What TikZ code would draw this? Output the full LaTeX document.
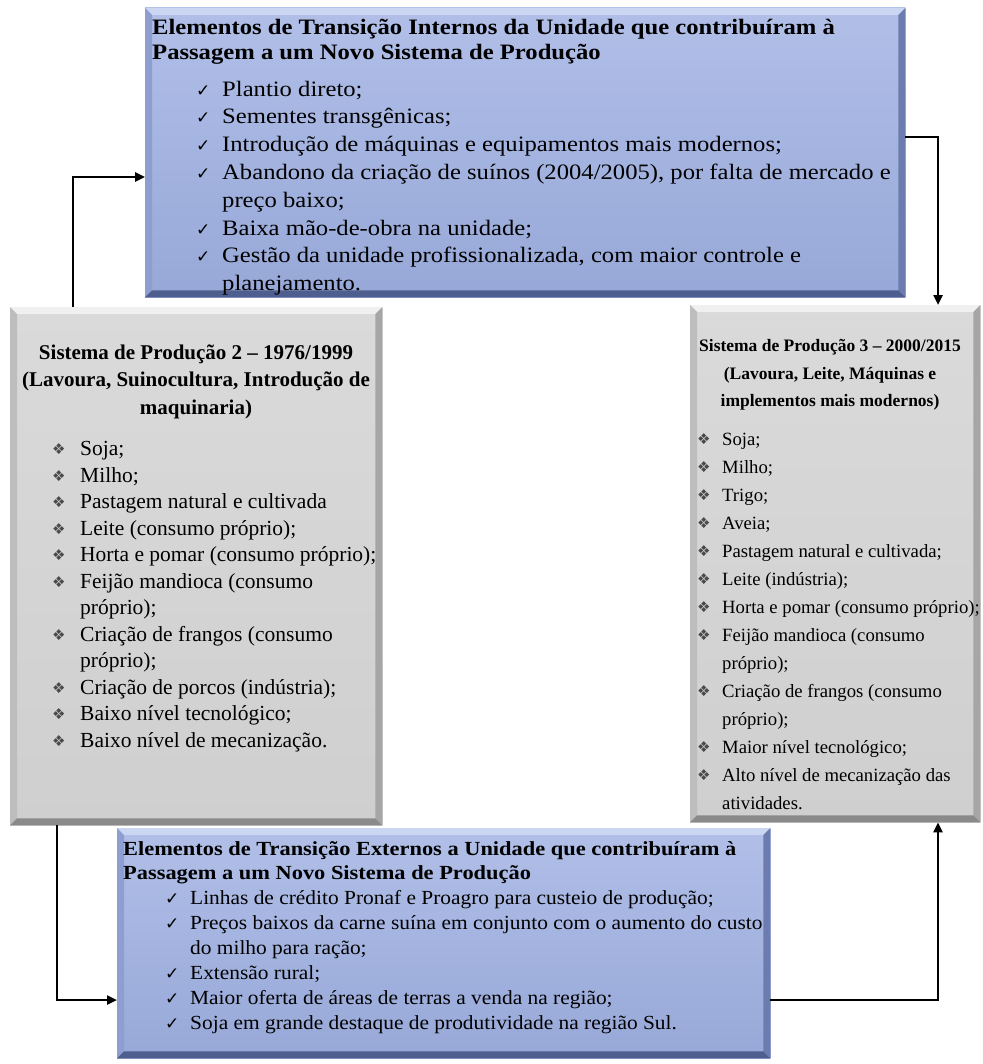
\documentclass[tikz,border=0pt]{standalone}
\usepackage{fontspec}
\setmainfont{Liberation Serif}
\newfontfamily\symfont{DejaVu Sans}
\newfontfamily\wideA[FakeStretch=1.12]{Liberation Serif}
\newfontfamily\wideB[FakeStretch=1.07]{Liberation Serif}
\usetikzlibrary{calc,arrows.meta}
\definecolor{bluetop}{HTML}{B1BFE8}
\definecolor{bluebot}{HTML}{97A8D8}
\definecolor{bluelight}{HTML}{CBD6F3}
\definecolor{bluedark}{HTML}{4E5E8E}
\definecolor{blueside}{HTML}{6C7CAE}
\definecolor{blueleft}{HTML}{8E9ED0}
\definecolor{graytop}{HTML}{DADADA}
\definecolor{graybot}{HTML}{CFCFCF}
\definecolor{graylight}{HTML}{F0F0F0}
\definecolor{graydark}{HTML}{8A8A8A}
\definecolor{grayside}{HTML}{A6A6A6}
\definecolor{grayleft}{HTML}{BDBDBD}
\newcommand{\chk}{\makebox[0pt][l]{\symfont\fontsize{17}{17}\selectfont ✓}}
\newcommand{\dia}{\makebox[0pt][l]{\raisebox{1pt}{\color[HTML]{4A4A4A}\symfont\fontsize{15}{15}\selectfont ❖}}}
\newcommand{\itm}[3]{\makebox[#1][l]{#2}#3}
\newcommand{\drawbevel}[7]{%
  \shade[top color=#2, bottom color=#3] (#1.north west) rectangle (#1.south east);
  \fill[#4] (#1.north west) -- (#1.north east) -- ($(#1.north east)+(-7,7)$) -- ($(#1.north west)+(7,7)$) -- cycle;
  \fill[#7] (#1.north west) -- ($(#1.north west)+(7,7)$) -- ($(#1.south west)+(7,-7)$) -- (#1.south west) -- cycle;
  \fill[#6] (#1.north east) -- ($(#1.north east)+(-7,7)$) -- ($(#1.south east)+(-7,-7)$) -- (#1.south east) -- cycle;
  \fill[#5] (#1.south west) -- (#1.south east) -- ($(#1.south east)+(-7,-7)$) -- ($(#1.south west)+(7,-7)$) -- cycle;
}
\tikzset{
  boxnode/.style={inner sep=0pt, anchor=north west},
  txt/.style={inner sep=0pt, anchor=north west, align=left},
  ctxt/.style={inner sep=0pt, anchor=north, align=center},
  arr/.style={line width=2.4pt, -{Triangle[length=10pt,width=9pt]}}
}
\begin{document}
\begin{tikzpicture}[x=1pt,y=-1pt]
\useasboundingbox (0,0) rectangle (982,1064);
% boxes
\node[boxnode, minimum width=760pt, minimum height=289pt] (tbox) at (145,8) {};
\node[boxnode, minimum width=372pt, minimum height=518pt] (lbox) at (10,307) {};
\node[boxnode, minimum width=290pt, minimum height=517pt] (rbox) at (690,305) {};
\node[boxnode, minimum width=653pt, minimum height=230pt] (bbox) at (117,828) {};
\drawbevel{tbox}{bluetop}{bluebot}{bluelight}{bluedark}{blueside}{blueleft}
\drawbevel{bbox}{bluetop}{bluebot}{bluelight}{bluedark}{blueside}{blueleft}
\drawbevel{lbox}{graytop}{graybot}{graylight}{graydark}{grayside}{grayleft}
\drawbevel{rbox}{graytop}{graybot}{graylight}{graydark}{grayside}{grayleft}
% top text
\node[txt, font=\wideA\fontsize{22}{25}\selectfont\bfseries] (ttitle) at (152,12) {\rule{0pt}{1em}Elementos de Transição Internos da Unidade que contribuíram à\\
Passagem a um Novo Sistema de Produção};
\node[txt, font=\wideA\fontsize{22}{27.8}\selectfont] (titems) at (196,74) {\rule{0pt}{1em}\itm{26pt}{\chk}{Plantio direto;}\\
\itm{26pt}{\chk}{Sementes transgênicas;}\\
\itm{26pt}{\chk}{Introdução de máquinas e equipamentos mais modernos;}\\
\itm{26pt}{\chk}{Abandono da criação de suínos (2004/2005), por falta de mercado e}\\
\itm{26pt}{}{preço baixo;}\\
\itm{26pt}{\chk}{Baixa mão-de-obra na unidade;}\\
\itm{26pt}{\chk}{Gestão da unidade profissionalizada, com maior controle e}\\
\itm{26pt}{}{planejamento.}};
% left text
\node[ctxt, font=\fontsize{21}{27.5}\selectfont\bfseries] (ltitle) at (196,338) {\rule{0pt}{1em}Sistema de Produção 2 – 1976/1999\\
(Lavoura, Suinocultura, Introdução de\\
maquinaria)};
\node[txt, font=\fontsize{21.5}{26.5}\selectfont] (litems) at (52,434) {\rule{0pt}{1em}\itm{28pt}{\dia}{Soja;}\\
\itm{28pt}{\dia}{Milho;}\\
\itm{28pt}{\dia}{Pastagem natural e cultivada}\\
\itm{28pt}{\dia}{Leite (consumo próprio);}\\
\itm{28pt}{\dia}{Horta e pomar (consumo próprio);}\\
\itm{28pt}{\dia}{Feijão mandioca (consumo}\\
\itm{28pt}{}{próprio);}\\
\itm{28pt}{\dia}{Criação de frangos (consumo}\\
\itm{28pt}{}{próprio);}\\
\itm{28pt}{\dia}{Criação de porcos (indústria);}\\
\itm{28pt}{\dia}{Baixo nível tecnológico;}\\
\itm{28pt}{\dia}{Baixo nível de mecanização.}};
% right text
\node[ctxt, font=\fontsize{17.5}{27.5}\selectfont\bfseries] (rtitle) at (830,334) {\rule{0pt}{1em}Sistema de Produção 3 – 2000/2015\\
(Lavoura, Leite, Máquinas e\\
implementos mais modernos)};
\node[txt, font=\fontsize{18.7}{28}\selectfont] (ritems) at (697,427) {\rule{0pt}{1em}\itm{25pt}{\dia}{Soja;}\\
\itm{25pt}{\dia}{Milho;}\\
\itm{25pt}{\dia}{Trigo;}\\
\itm{25pt}{\dia}{Aveia;}\\
\itm{25pt}{\dia}{Pastagem natural e cultivada;}\\
\itm{25pt}{\dia}{Leite (indústria);}\\
\itm{25pt}{\dia}{Horta e pomar (consumo próprio);}\\
\itm{25pt}{\dia}{Feijão mandioca (consumo}\\
\itm{25pt}{}{próprio);}\\
\itm{25pt}{\dia}{Criação de frangos (consumo}\\
\itm{25pt}{}{próprio);}\\
\itm{25pt}{\dia}{Maior nível tecnológico;}\\
\itm{25pt}{\dia}{Alto nível de mecanização das}\\
\itm{25pt}{}{atividades.}};
% bottom text
\node[txt, font=\wideA\fontsize{20}{24.5}\selectfont\bfseries] (btitle) at (123,835) {\rule{0pt}{1em}Elementos de Transição Externos a Unidade que contribuíram à\\
Passagem a um Novo Sistema de Produção};
\node[txt, font=\wideB\fontsize{20}{25}\selectfont] (bitems) at (165,884) {\rule{0pt}{1em}\itm{25pt}{\chk}{Linhas de crédito Pronaf e Proagro para custeio de produção;}\\
\itm{25pt}{\chk}{Preços baixos da carne suína em conjunto com o aumento do custo}\\
\itm{25pt}{}{do milho para ração;}\\
\itm{25pt}{\chk}{Extensão rural;}\\
\itm{25pt}{\chk}{Maior oferta de áreas de terras a venda na região;}\\
\itm{25pt}{\chk}{Soja em grande destaque de produtividade na região Sul.}};
% connectors
\coordinate (a1) at (73,177);
\coordinate (a2) at (938,137);
\coordinate (a3) at (57,1000);
\coordinate (a4) at (938,1000);
\draw[arr] (lbox.north -| a1) |- (tbox.west |- a1);
\draw[arr] (tbox.east |- a2) -| (rbox.north -| a2);
\draw[arr] (lbox.south -| a3) |- (bbox.west |- a3);
\draw[arr] (bbox.east |- a4) -| (rbox.south -| a4);
\end{tikzpicture}
\end{document}
